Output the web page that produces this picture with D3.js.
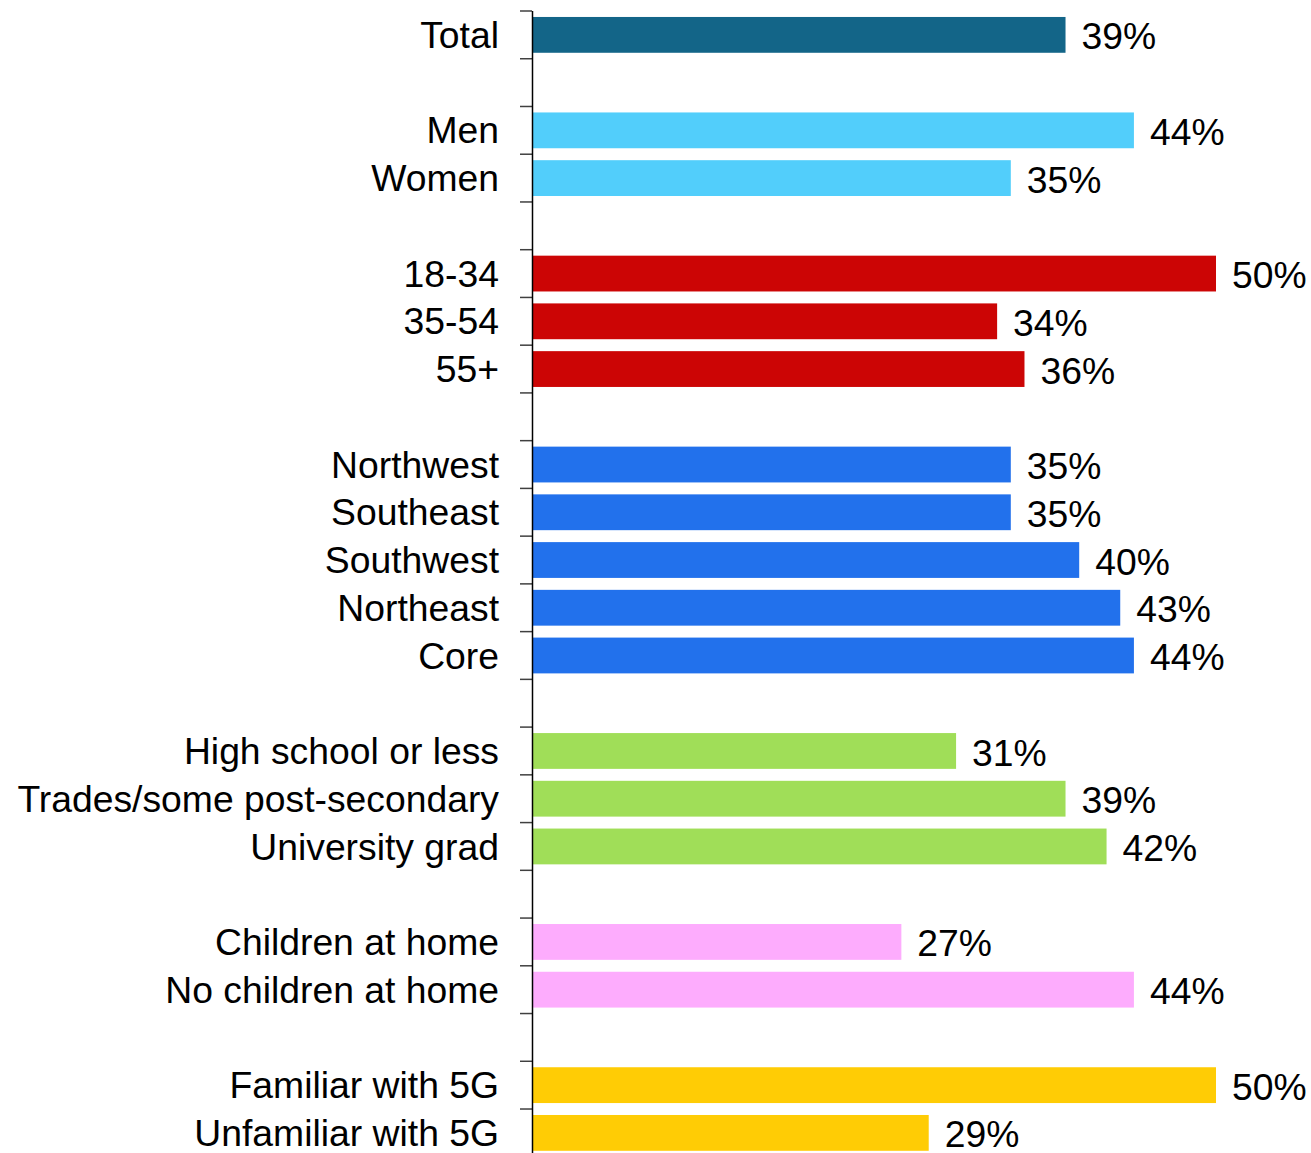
<!DOCTYPE html>
<html><head><meta charset="utf-8">
<script src="https://cdn.jsdelivr.net/npm/d3@7"></script>
<style>body{margin:0;background:#fff}svg{display:block}</style>
</head><body>
<script>
const categories = ["Total","_g1","Men","Women","_g2","18-34","35-54","55+","_g3","Northwest","Southeast","Southwest","Northeast","Core","_g4","High school or less","Trades/some post-secondary","University grad","_g5","Children at home","No children at home","_g6","Familiar with 5G","Unfamiliar with 5G"];
const values = [39,null,44,35,null,50,34,36,null,35,35,40,43,44,null,31,39,42,null,27,44,null,50,29];
const groups = ["total",null,"gender","gender",null,"age","age","age",null,"region","region","region","region","region",null,"edu","edu","edu",null,"kids","kids",null,"fiveg","fiveg"];
const groupColors = {total:"#136588",gender:"#52CEFB",age:"#CC0505",region:"#2271EC",edu:"#A0DE58",kids:"#FDACFD",fiveg:"#FFCC05"};

const W=1311,H=1153;
const svg=d3.select("body").append("svg").attr("width",W).attr("height",H);
const x=d3.scaleLinear().domain([0,50]).range([532,1216]);
const y=d3.scaleBand().domain(categories).range([11,11+24*47.74]).paddingInner(0.25).paddingOuter(0.125);
const font="Liberation Sans, Arial, sans-serif";

const data=categories.map((c,i)=>({c,v:values[i],g:groups[i]})).filter(d=>d.v!=null);
svg.selectAll("rect.bar").data(data).join("rect").attr("class","bar")
  .attr("x",x(0)).attr("y",d=>y(d.c)).attr("width",d=>x(d.v)-x(0)).attr("height",y.bandwidth())
  .attr("fill",d=>groupColors[d.g]);
svg.selectAll("text.val").data(data).join("text").attr("class","val")
  .attr("x",d=>x(d.v)+16).attr("y",d=>y(d.c)+y.bandwidth()/2).attr("dy","0.39em")
  .attr("font-family",font).attr("font-size",37.3).attr("fill","#000").text(d=>d.v+"%");
svg.selectAll("text.cat").data(data).join("text").attr("class","cat")
  .attr("x",499).attr("y",d=>y(d.c)+y.bandwidth()/2).attr("dy","0.35em").attr("text-anchor","end")
  .attr("font-family",font).attr("font-size",37.3).attr("fill","#000").text(d=>d.c);

const step=y.step();
const bounds=d3.range(categories.length+1).map(i=>11+i*step);
svg.selectAll("line.tick").data(bounds).join("line").attr("class","tick")
  .attr("x1",520).attr("x2",532).attr("y1",d=>d).attr("y2",d=>d)
  .attr("stroke","#404040").attr("stroke-width",1.5);
svg.append("line").attr("x1",532.5).attr("x2",532.5).attr("y1",11).attr("y2",H)
  .attr("stroke","#000").attr("stroke-width",1.5);
</script>
</body></html>
